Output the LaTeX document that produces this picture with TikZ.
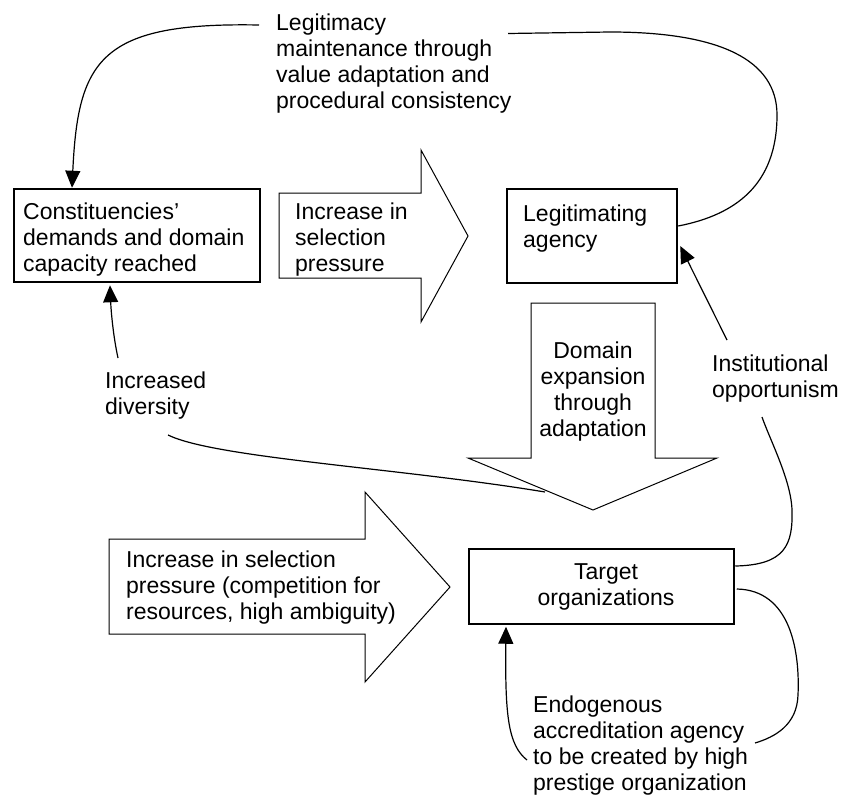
\documentclass[tikz,border=0pt]{standalone}
\usepackage{fontspec}
\setmainfont{Liberation Sans}
\usetikzlibrary{arrows.meta,calc}
\newcommand{\fl}{\rule{0pt}{17pt}}
\begin{document}
\begin{tikzpicture}[x=1pt,y=-1pt,
  lbl/.style={inner sep=0pt, align=left, anchor=north west, font=\fontsize{23}{26}\selectfont},
  clbl/.style={inner sep=0pt, align=center, anchor=north, font=\fontsize{23}{26}\selectfont},
  box/.style={draw, line width=2.5pt, inner sep=0pt, fill=white},
  bigarrow/.style={draw, line width=1pt, fill=white, line join=miter},
  conn/.style={line width=1.2pt},
  arr/.style={-{Triangle[length=17pt,width=15pt]}}]
\fill[white] (0,0) rectangle (845,795);
\useasboundingbox (0,0) rectangle (845,795);

% top label
\node[lbl] (top) at (276,13) {\fl Legitimacy\\maintenance through\\value adaptation and\\procedural consistency};

% constituencies box
\node[box, minimum width=246pt, minimum height=93pt] (con) at (137,235.5) {};
\node[lbl] (cont) at (23,202) {\fl Constituencies’\\demands and domain\\capacity reached};

% first block arrow
\draw[bigarrow] (279,193) -- (421,193) -- (421,150) -- (468,236) -- (421,322) -- (421,278) -- (279,278) -- cycle;
\node[lbl] (a1t) at (295,202) {\fl Increase in\\selection\\pressure};

% legitimating agency
\node[box, minimum width=170pt, minimum height=94pt] (leg) at (592,236) {};
\node[lbl] (legt) at (523,204) {\fl Legitimating\\agency};

% domain down arrow
\draw[bigarrow] (531,303) -- (655,303) -- (655,458) -- (717,458) -- (593,510) -- (468,458) -- (531,458) -- cycle;
\node[clbl] (dom) at (593,341) {\fl Domain\\expansion\\through\\adaptation};

% labels
\node[lbl] (inst) at (712,354) {\fl Institutional\\opportunism};
\node[lbl] (div) at (105,371) {\fl Increased\\diversity};

% lower-left block arrow
\draw[bigarrow] (109,539) -- (365,539) -- (365,492) -- (450,587) -- (365,682) -- (365,634) -- (109,634) -- cycle;
\node[lbl] (a2t) at (126,550) {\fl Increase in selection\\pressure (competition for\\resources, high ambiguity)};

% target organizations
\node[box, minimum width=265pt, minimum height=75pt] (tgt) at (601.5,586.5) {};
\node[clbl] (tgtt) at (606,562) {\fl Target\\organizations};

% endogenous label
\node[lbl] (endo) at (533,695) {\fl Endogenous\\accreditation agency\\to be created by high\\prestige organization};

% connectors
\coordinate (trs) at (508,33.5);
\coordinate (dstart) at (545,492);

\draw[conn, arr] ([shift={(-17,12)}]top.north west) .. controls (100,22) and (78,60) .. ([shift={(59.25,0)}]con.north west);

\draw[conn] (trs) -- (610,32) .. controls (720,32) and (777,60) .. (777,115) .. controls (777,185) and (735,215) .. ([shift={(0,-10)}]leg.east);

\draw[conn, arr] ([shift={(15,-14)}]inst.north west) -- ([shift={(2,10)}]leg.east);
\draw[conn] ([shift={(0,-20.5)}]tgt.east) .. controls (785,565) and (793,545) .. (792,510) .. controls (791,480) and (770,440) .. ([shift={(50,63)}]inst.north west);

\draw[conn] ([shift={(1.5,2.5)}]tgt.east) .. controls (790,590) and (800,650) .. (798,695) .. controls (797,725) and (775,737) .. ([shift={(222,48)}]endo.north west);
\draw[conn, arr] ([shift={(-6,65)}]endo.north west) .. controls (508,745) and (505,715) .. ([shift={(-95.5,1.5)}]tgt.south);

\draw[conn] (dstart) .. controls (400,468) and (215,458) .. ([shift={(63,64)}]div.north west);
\draw[conn, arr] ([shift={(13,-13)}]div.north west) .. controls (113,335) and (111,310) .. ([shift={(-27,2)}]con.south);
\end{tikzpicture}
\end{document}
